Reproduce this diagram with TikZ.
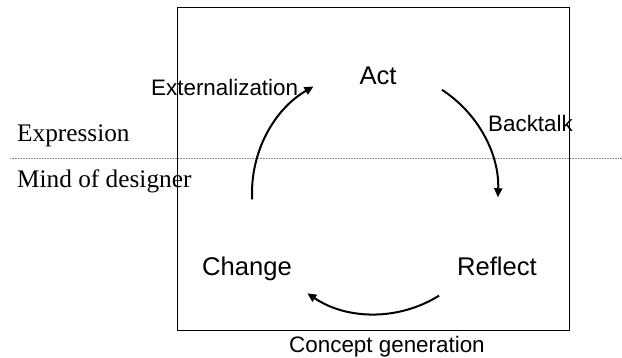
\documentclass[tikz,border=0pt]{standalone}
\usepackage{fontspec}
\setmainfont{Liberation Serif}
\setsansfont{Liberation Sans}
\usetikzlibrary{arrows.meta, positioning, calc}
\definecolor{LineGray}{HTML}{8A8A8A}

\begin{document}
\begin{tikzpicture}[
    x=1pt, y=1pt,
    stage/.style={font=\sffamily\fontsize{25.6}{30}\selectfont, inner sep=0pt, anchor=base},
    tag/.style={font=\sffamily\fontsize{22.4}{26}\selectfont, inner sep=0pt, anchor=base west},
    zone/.style={font=\rmfamily\fontsize{25.3}{30}\selectfont, inner sep=0pt, anchor=base west},
    cycarrow/.style={line width=2pt, -{Triangle[length=9pt, width=8pt]}}
]
    \useasboundingbox (0,0) rectangle (622,358);

    % === FRAME AND DIVIDER ===
    \draw[line width=1pt] (177,27) rectangle (569,350);
    \draw[LineGray, line width=1pt, dash pattern=on 1pt off 0.6pt] (10,199) -- (622,199);

    % === ZONES ===
    \node[zone] (Expression) at (17,216) {Expression};
    \node[zone] (Mind) at (17,170) {Mind of designer};

    % === STAGES ===
    \node[stage] (Act) at (378,273) {Act};
    \node[stage] (Change) at (247,82) {Change};
    \node[stage] (Reflect) at (497,82) {Reflect};

    % === CYCLE ===
    \coordinate (Hub) at (375,165);
    \def\rad{123}
    \coordinate (ChangeOut) at ($(Hub)+(183:\rad)$);
    \coordinate (ActOut) at ($(Hub)+(57:\rad)$);
    \coordinate (ReflectOut) at ($(Hub)+(-58:121)$);
    \draw[cycarrow] (ChangeOut) arc[start angle=183, end angle=120, radius=\rad];
    \draw[cycarrow] (ActOut) arc[start angle=57, end angle=-2, radius=\rad];
    \draw[cycarrow] (ReflectOut) arc[start angle=-58, end angle=-124, radius=121];

    % === TRANSITIONS ===
    \node[tag] (Externalization) at (151,262) {Externalization};
    \node[tag] (Backtalk) at (488,226) {Backtalk};
    \node[tag, anchor=base] (Concept) at (387,5) {Concept generation};
\end{tikzpicture}
\end{document}
